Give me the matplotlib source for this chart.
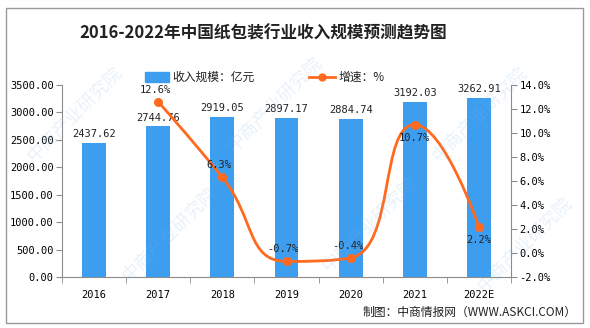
import numpy as np
import matplotlib
matplotlib.use("Agg")
import matplotlib.pyplot as plt
from matplotlib.path import Path
from matplotlib.patches import PathPatch, Rectangle
from matplotlib.lines import Line2D

plt.rcParams['font.family'] = ['Noto Sans CJK SC', 'DejaVu Sans']

years = ["2016", "2017", "2018", "2019", "2020", "2021", "2022E"]
revenue = [2437.62, 2744.76, 2919.05, 2897.17, 2884.74, 3192.03, 3262.91]
growth_years = ["2017", "2018", "2019", "2020", "2021", "2022E"]
growth = [12.6, 6.3, -0.7, -0.4, 10.7, 2.2]
growth_label_below = [False, False, False, False, True, True]

title = "2016-2022年中国纸包装行业收入规模预测趋势图"
bar_name = "收入规模：亿元"
line_name = "增速：%"
source = "制图：中商情报网（WWW.ASKCI.COM）"
watermark = "中商产业研究院"

BAR_COLOR = "#3d9ef0"
LINE_COLOR = "#ff6a1f"
AXIS_COLOR = "#8c8c8c"
NUM_FONT = "DejaVu Sans Mono"

W, H = 590, 328
fig = plt.figure(figsize=(W / 100, H / 100), dpi=100)

# outer frame
fig.patches.append(Rectangle((6 / W, 1 - 323 / H), 577 / W, 315 / H,
                             transform=fig.transFigure, fill=False,
                             edgecolor="#999999", linewidth=1.0, zorder=0))

# faint diagonal watermark
for (wx, wy) in [(75, 115), (275, 105), (480, 115),
                 (170, 235), (370, 225), (525, 245)]:
    fig.text(wx / W, 1 - wy / H, watermark, rotation=45, fontsize=13,
             color="#7fb4e6", alpha=0.18, ha="center", va="center", zorder=0)

ax = fig.add_axes([62 / W, 1 - 277 / H, (511 - 62) / W, (277 - 85) / H])
ax2 = ax.twinx()
ax.patch.set_alpha(0)

x = np.arange(len(years))
ax.bar(x, revenue, width=0.37, color=BAR_COLOR, zorder=2)
for xi, v in zip(x, revenue):
    ax.text(xi, v + 70, f"{v:.2f}", ha="center", va="bottom",
            fontsize=7.5, family=NUM_FONT, color="#222222")

ax.set_xlim(-0.5, len(years) - 0.5)
ax.set_ylim(0, 3500)
ax.set_yticks(np.arange(0, 3501, 500))
ax.set_yticklabels([f"{t:.2f}" for t in np.arange(0, 3501, 500)],
                   family=NUM_FONT, fontsize=7.5)
ax.set_xticks(x)
ax.set_xticklabels(years, family=NUM_FONT, fontsize=7.5)
ax.set_xticks(np.arange(-0.5, len(years)), minor=True)
ax.tick_params(axis="x", which="major", length=0, pad=9)
ax.tick_params(axis="x", which="minor", length=4, color=AXIS_COLOR)
ax.tick_params(axis="y", length=4, color=AXIS_COLOR, pad=2)

for a in (ax, ax2):
    a.spines["top"].set_visible(False)
    for s in ("left", "right", "bottom"):
        a.spines[s].set_color(AXIS_COLOR)
ax2.spines["left"].set_visible(False)
ax.spines["right"].set_visible(False)
ax2.spines["bottom"].set_visible(False)

ax2.set_ylim(-2, 14)
ax2.set_yticks(np.arange(-2, 14.1, 2))
ax2.set_yticklabels([f"{t:.1f}%" for t in np.arange(-2, 14.1, 2)],
                    family=NUM_FONT, fontsize=7.5)
ax2.tick_params(axis="y", length=4, color=AXIS_COLOR, pad=2)

# smoothed growth curve (monotone-constrained bezier through the points)
gx = np.array([years.index(y) for y in growth_years], dtype=float)
gy = np.array(growth, dtype=float)
sx, sy = 64.0, 12.0  # pixel size of one data unit on each axis
smooth = 0.5
n = len(gx)
pts = np.column_stack([gx, gy])
cp_prev = pts.copy()
cp_next = pts.copy()


def clamp(v, a, b):
    return np.minimum(np.maximum(v, np.minimum(a, b)), np.maximum(a, b))


for j in range(1, n - 1):
    p, pr, nx = pts[j], pts[j - 1], pts[j + 1]
    lp = np.hypot((p[0] - pr[0]) * sx, (p[1] - pr[1]) * sy)
    ln = np.hypot((nx[0] - p[0]) * sx, (nx[1] - p[1]) * sy)
    v = nx - pr
    r = ln / (ln + lp)
    nc = clamp(p + v * smooth * r, p, nx)
    pc = clamp(p - (nc - p) * lp / ln, pr, p)
    nc = p + (p - pc) * ln / lp
    cp_prev[j], cp_next[j] = pc, nc

verts = [tuple(pts[0])]
codes = [Path.MOVETO]
for j in range(n - 1):
    verts += [tuple(cp_next[j]), tuple(cp_prev[j + 1]), tuple(pts[j + 1])]
    codes += [Path.CURVE4] * 3
ax2.add_patch(PathPatch(Path(verts, codes), fill=False, edgecolor=LINE_COLOR,
                        linewidth=2.0, zorder=3, capstyle="round"))
ax2.plot(gx, gy, linestyle="none", marker="o", markersize=5.5,
         color=LINE_COLOR, zorder=4)
for xi, v, below in zip(gx, gy, growth_label_below):
    if below:
        ax2.text(xi, v - 0.7, f"{v:.1f}%", ha="center", va="top",
                 fontsize=7.5, family=NUM_FONT, color="#222222", zorder=5)
    else:
        ax2.text(xi - 0.05, v + 0.6, f"{v:.1f}%", ha="center", va="bottom",
                 fontsize=7.5, family=NUM_FONT, color="#222222", zorder=5)

# title
fig.text(263 / W, 1 - 33 / H, title, ha="center", va="center",
         fontsize=12, fontweight="bold", color="#222222")

# legend
ly = 1 - 77 / H
fig.patches.append(Rectangle((145 / W, ly - 5 / H), 24 / W, 10 / H,
                             transform=fig.transFigure, color=BAR_COLOR))
fig.text(172 / W, ly, bar_name, ha="left", va="center", fontsize=8.5,
         color="#222222")
fig.add_artist(Line2D([309 / W, 335 / W], [ly, ly], transform=fig.transFigure,
                      color=LINE_COLOR, linewidth=2.0))
fig.add_artist(Line2D([322 / W], [ly], transform=fig.transFigure,
                      color=LINE_COLOR, marker="o", markersize=5))
fig.text(339 / W, ly, line_name, ha="left", va="center", fontsize=8.5,
         color="#222222")

# source note
fig.text(577 / W, 1 - 312 / H, source, ha="right", va="center", fontsize=8.5,
         color="#222222")

fig.savefig("out.png", dpi=100)
